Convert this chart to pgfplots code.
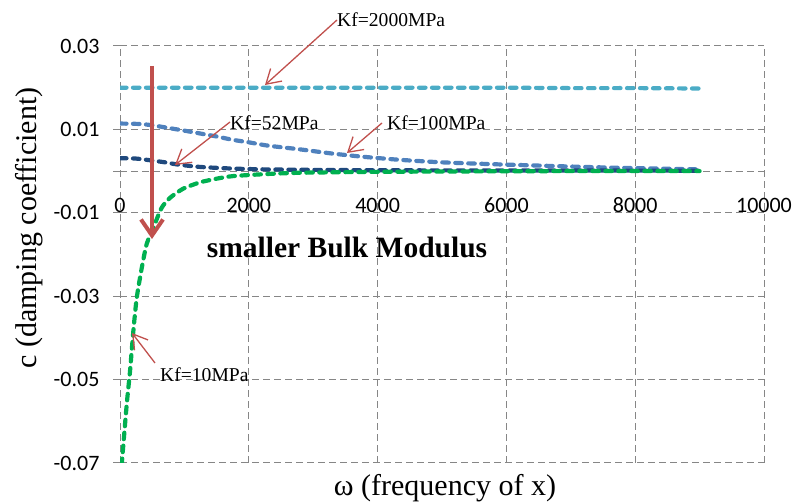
\documentclass[border=0pt]{standalone}
\usepackage{pgfplots}
\pgfplotsset{compat=1.18}
\usepackage{fontspec}
\setmainfont{Liberation Serif}
\newfontfamily\carlito{Carlito}
\usetikzlibrary{arrows.meta}
\definecolor{cyanS}{HTML}{4BACC6}
\definecolor{blueS}{HTML}{4F81BD}
\definecolor{navyS}{HTML}{1F497D}
\definecolor{greenS}{HTML}{00B050}
\definecolor{redA}{HTML}{C0504D}
\definecolor{gridc}{HTML}{868686}
\pgfplotsset{serie/.style={line width=4.2bp, dash pattern=on 6.5bp off 6.5bp, line cap=round, line join=round, smooth, tension=0.4}}
\begin{document}
\begin{tikzpicture}
\useasboundingbox (0,0) rectangle (795bp,504bp);
\begin{axis}[at={(120bp,41bp)}, anchor=south west, scale only axis,
  width=644bp, height=417bp,
  xmin=0, xmax=10000, ymin=-0.07, ymax=0.03,
  clip mode=individual,
  axis line style={draw=none},
  xtick={0,2000,4000,6000,8000,10000}, xticklabels={},
  scaled x ticks=false, scaled y ticks=false,
  ytick={-0.07,-0.05,-0.03,-0.01,0.01,0.03},
  yticklabels={-0.07,-0.05,-0.03,-0.01,0.01,0.03},
  extra y ticks={0}, extra y tick labels={},
  extra y tick style={grid=major},
  grid=major,
  major grid style={draw=gridc, line width=1bp, dash pattern=on 7bp off 4bp},
  tick align=outside, ytick pos=left, major tick length=7bp,
  ytick style={draw=gridc, line width=1bp},
  xtick style={draw=none},
  yticklabel style={font=\carlito\fontsize{22bp}{24bp}\selectfont, anchor=east, xshift=-10bp},
]
\addplot[serie, cyanS] coordinates {(0,0.0200) (1000,0.0200) (2000,0.0200) (3000,0.0200) (4000,0.0200) (5000,0.0200) (6000,0.0200) (7000,0.0199) (8000,0.0199) (9000,0.0198)};
\addplot[serie, blueS] coordinates {(0,0.0114) (300,0.0113) (500,0.0110) (730,0.0104) (1000,0.0097) (1250,0.0090) (1500,0.0083) (1750,0.0075) (2000,0.0069) (2300,0.0061) (2800,0.0052) (3300,0.0042) (3800,0.0034) (4350,0.0027) (5000,0.0021) (5900,0.0016) (7450,0.0009) (9000,0.0004)};
\addplot[serie, navyS] coordinates {(0,0.0031) (250,0.0030) (466,0.0026) (700,0.0021) (885,0.0016) (1242,0.0010) (1755,0.0006) (2283,0.0004) (3000,0.0003) (4000,0.0002) (6000,0.00015) (9000,0.0001)};
\addplot[serie, greenS] coordinates {(26,-0.0705) (104,-0.0560) (155,-0.0481) (207,-0.0384) (259,-0.0305) (337,-0.0233) (414,-0.0175) (517,-0.0136) (647,-0.0088) (777,-0.0064) (983,-0.0042) (1242,-0.0027) (1506,-0.0018) (1755,-0.0012) (2283,-0.0007) (2795,-0.0004) (3835,-0.0002) (5000,-0.0001) (7000,0.0000) (9000,0.0000)};
\foreach \v in {0,2000,4000,6000,8000,10000}{
  \edef\tmp{\noexpand\node[anchor=base, font=\noexpand\carlito\noexpand\fontsize{22bp}{24bp}\noexpand\selectfont, inner sep=0pt] at (axis cs:\v,-0.01) {\v};}\tmp
}
\end{axis}
\begin{scope}[x=1bp, y=-1bp, yshift=504bp]
\draw[redA, line width=4.5bp, -{Straight Barb[length=16bp, width=22bp, line width=4bp]}] (152,66) -- (152,239);
\tikzset{ann/.style={redA, line width=1.3bp, -{Straight Barb[length=14bp, width=17bp, line width=1.3bp]}}}
\draw[ann] (337,20) -- (265,85);
\draw[ann] (230,122) -- (175,165);
\draw[ann] (382,123) -- (347,153);
\draw[ann] (155,363) -- (132,333);
\tikzset{annt/.style={anchor=west, inner sep=0pt, font=\fontsize{19.6bp}{21bp}\selectfont}}
\node[annt] at (337,20) {Kf=2000MPa};
\node[annt] at (230,123) {Kf=52MPa};
\node[annt] at (387,123) {Kf=100MPa};
\node[annt] at (160,375) {Kf=10MPa};
\node[anchor=base, inner sep=0pt, font=\bfseries\fontsize{29.5bp}{31bp}\selectfont] at (347,258) {smaller Bulk Modulus};
\node[anchor=base, inner sep=0pt, font=\fontsize{30bp}{32bp}\selectfont] at (445,496) {ω (frequency of x)};
\node[anchor=base, inner sep=0pt, rotate=90, font=\fontsize{30bp}{32bp}\selectfont] at (36,228) {c (damping coefficient)};
\end{scope}
\end{tikzpicture}
\end{document}
